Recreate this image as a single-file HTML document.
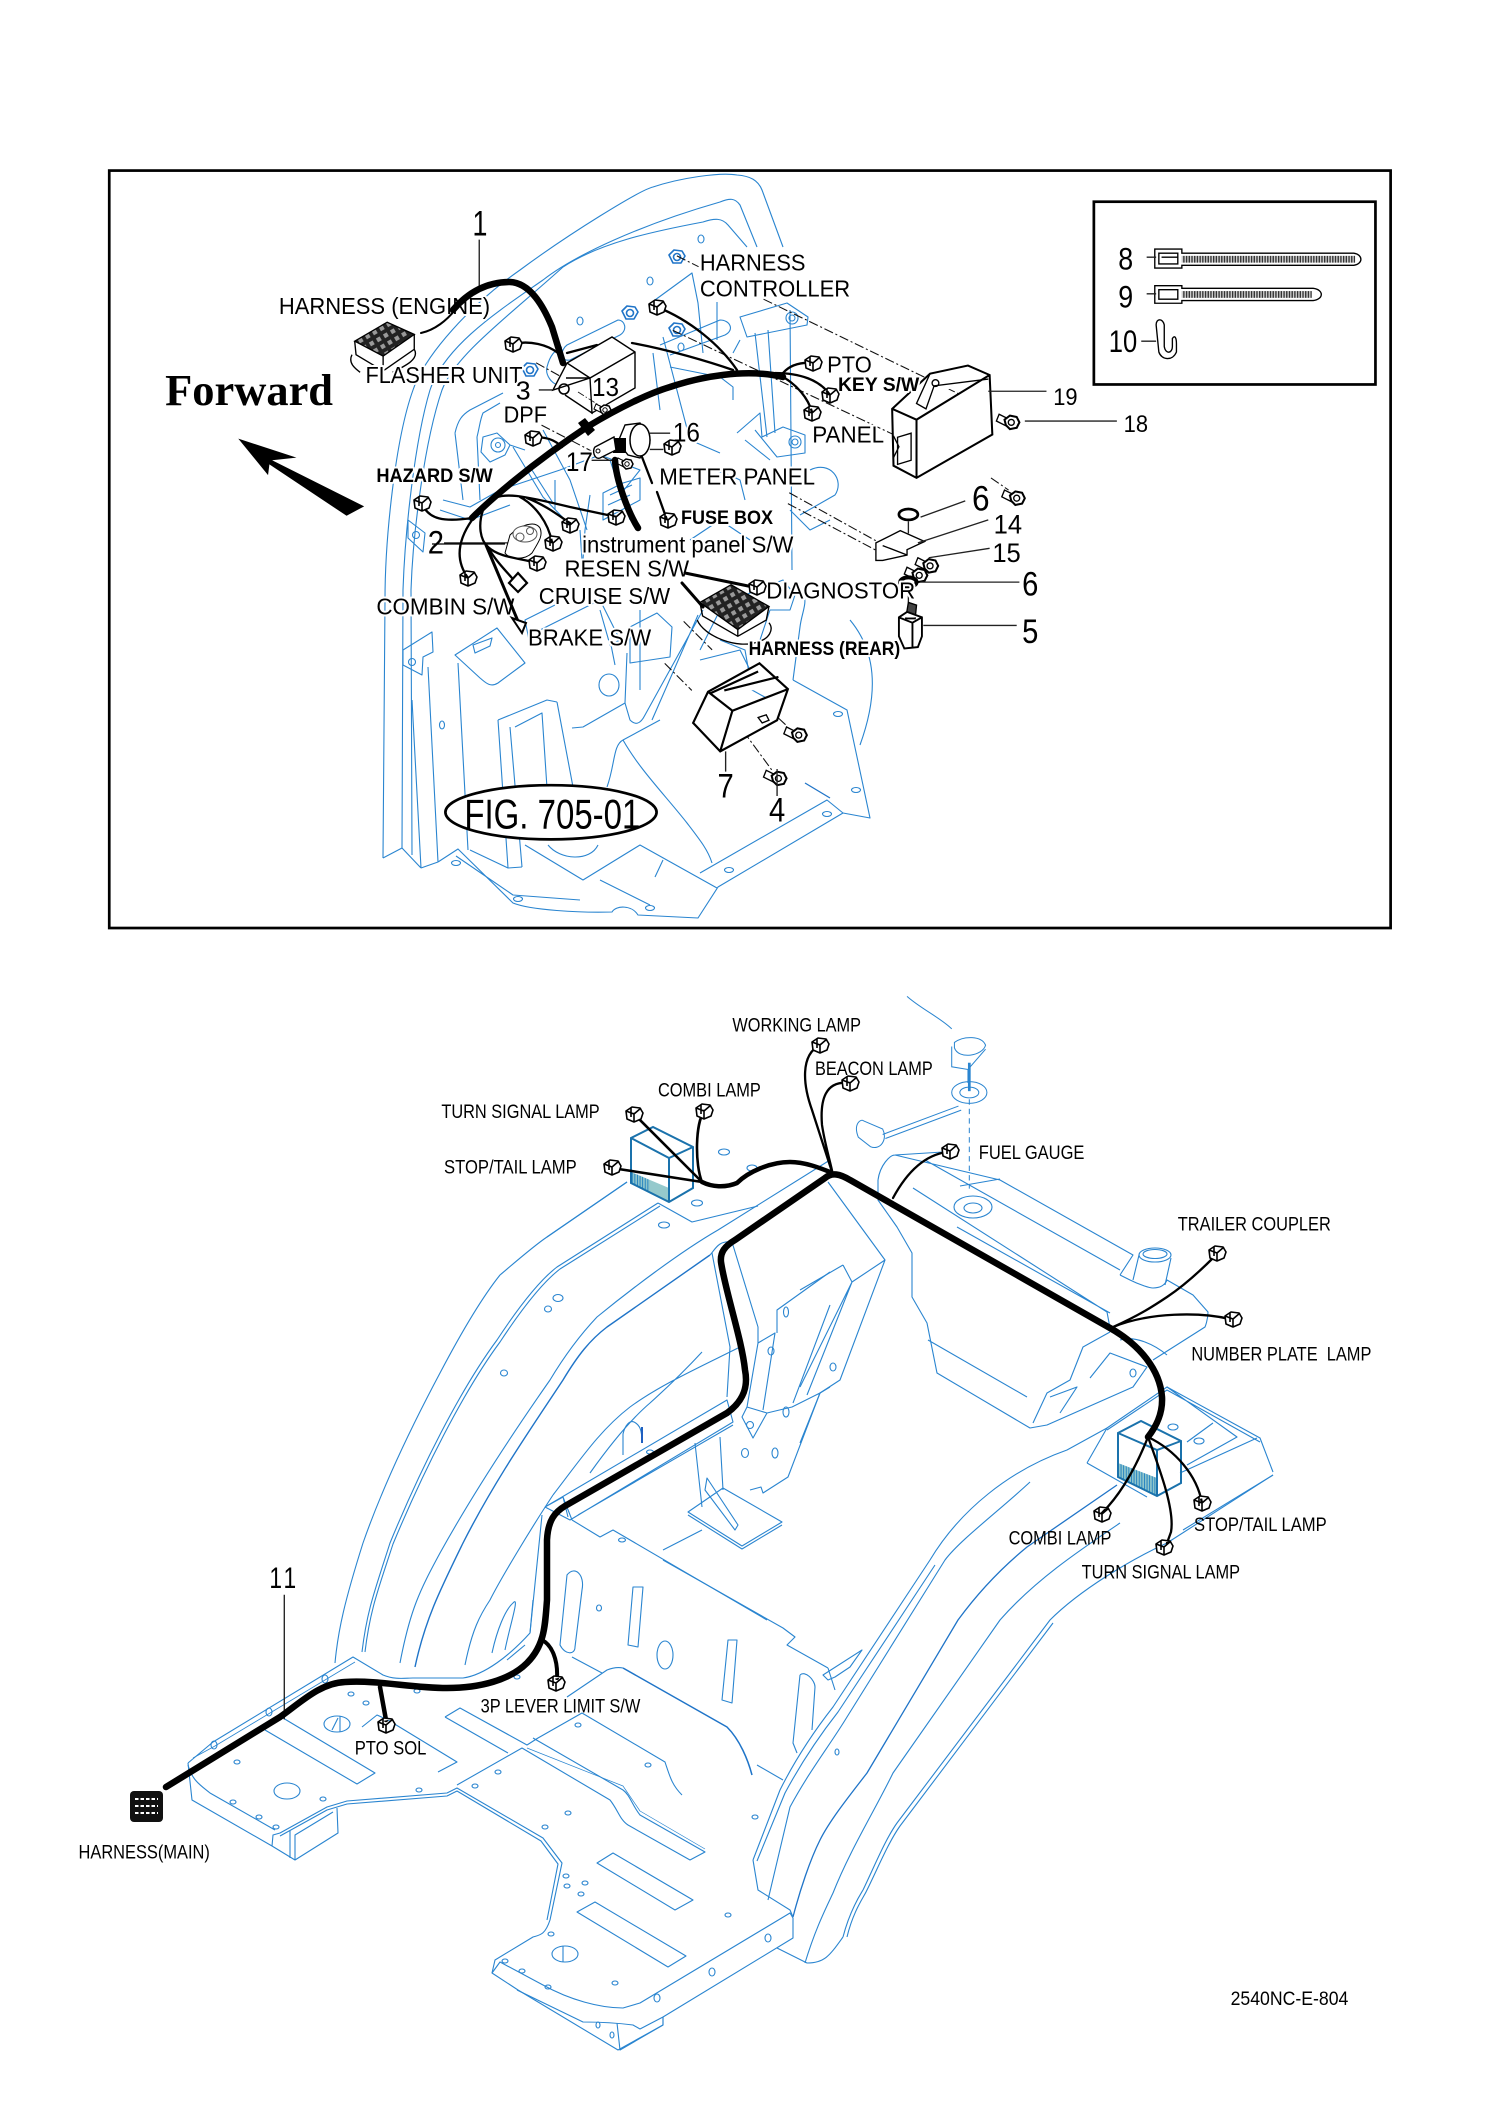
<!DOCTYPE html>
<html><head><meta charset="utf-8"><title>2540NC-E-804</title>
<style>html,body{margin:0;padding:0;background:#fff}svg{display:block}
text{font-family:"Liberation Sans",sans-serif;fill:#000}
.l{font-size:17px}.b{font-size:14.5px;font-weight:bold}.s{font-size:14.5px}
.halo text{paint-order:stroke;stroke:#fff;stroke-width:3px;stroke-linejoin:round}
.bl{fill:none;stroke:#2a85d0;stroke-width:.75}.pb{fill:none;stroke:#2a85d0;stroke-width:1.1;stroke-linejoin:round}
.hv{fill:none;stroke:#1f74c8;stroke-width:1.8}
.d{fill:none;stroke:#111;stroke-width:.8;stroke-dasharray:7 2 1.5 2}
.ld{fill:none;stroke:#222;stroke-width:1}
.w{fill:none;stroke:#000;stroke-width:2.3;stroke-linecap:round}
.tw{fill:none;stroke:#000;stroke-width:6.5;stroke-linecap:round}</style></head><body>
<svg xmlns="http://www.w3.org/2000/svg" width="1500" height="2123" viewBox="0 0 1500 2123">
<defs>
<g id="c"><path d="M-8 -3L-2 -7L6 -6L9 -1L7 5L0 8L-7 5Z M-8 -3L0 0L7 -6M0 0L0 8M-3 -6.5L-3 3" fill="#fff" stroke="#000" stroke-width="1.6" stroke-linejoin="round"/></g>
<g id="bolt"><path d="M-10 -5L-2 -1L-4 4L-12 0Z" fill="#fff" stroke="#000" stroke-width="1"/><path d="M-6 -1L-2 -4L3 -3L5 1L3 5L-2 6L-5 3Z" fill="#fff" stroke="#000" stroke-width="1.5"/><circle r="2.2" cx="-1" cy="1" fill="none" stroke="#000"/></g>
<g id="nut"><path d="M-8 -2L-3 -7L5 -6L8 -1L4 6L-4 6Z" fill="#fff" stroke="#1f74c8" stroke-width="1.6"/><circle r="3.5" fill="none" stroke="#1f74c8" stroke-width="1.6"/></g>
<pattern id="grid" width="6" height="6" patternUnits="userSpaceOnUse" patternTransform="rotate(-30)"><rect width="6" height="6" fill="#222"/><rect width="3.2" height="3.2" x="1.4" y="1.4" fill="#999"/></pattern>
<pattern id="hat" width="2.6" height="4" patternUnits="userSpaceOnUse"><rect width="2.6" height="4" fill="#8fc6cc"/><rect width=".9" height="4" fill="#1f7fc0"/></pattern>
<pattern id="tie" width="2" height="4" patternUnits="userSpaceOnUse"><rect width="2" height="4" fill="#ccc"/><rect width="1" height="4" fill="#333"/></pattern>
</defs>

<!-- TOP BLUE (px) -->
<g class="pb">
<path d="M383 858L385 600C385 540 395 440 413 390C425 355 470 305 520 270C570 233 640 190 653 187C680 178 720 172 737 175C750 176 758 180 762 190L783 247"/>
<path d="M402 848L403 590C405 530 415 440 430 390C445 345 500 310 543 280C575 255 640 225 720 202C730 198 735 198 740 205L757 247"/>
<path d="M412 855L411 590C413 530 425 440 442 390C455 355 510 315 563 267C600 243 650 232 703 222C715 218 722 218 728 225L747 247"/>
<path d="M383 858L402 848L421 868M421 868L438 862M412 700L421 868M428 667L438 862"/>
<path d="M403 650L432 632L433 652L423 657L422 675L403 665ZM408 520L425 533L423 552L408 538Z"/>
<circle cx="416" cy="535" r="3.5"/><circle cx="412" cy="662" r="3.5"/>
<path d="M438 862L458 849L513 903C530 910 580 913 612 912C616 905 632 905 638 915L698 918L718 887L843 813L870 818L847 710L793 680"/>
<path d="M456 856L513 895L580 900M470 850L508 868L522 867"/>
<path d="M455 655L497 628L525 663L498 683C490 688 485 682 480 678ZM473 645L492 638L490 646L475 653Z"/>
<path d="M458 663L468 850M498 720L508 868M510 727L522 867M515 727L542 713L547 788M557 702L573 787M498 720L547 700L557 702"/>
<path d="M572 728L583 727L625 703L630 720C635 725 640 725 645 715L703 610M627 653L625 703M652 720L698 615M630 663L670 657L672 627L657 613L630 627Z"/>
<path d="M660 720L623 740C613 745 615 765 607 787M623 740C640 770 665 795 687 823C700 840 708 850 712 863"/>
<path d="M700 873L827 800L843 813"/><path class="hv" d="M805 783L830 798" style="stroke-width:1.3"/>
<path d="M525 845L583 880L640 845L717 888M663 860L655 877M600 880L650 905M548 845C560 860 590 862 598 845"/>
<ellipse cx="609" cy="685" rx="10" ry="11"/>
<path d="M720 640L745 650L752 690L770 700M793 680L800 627C802 610 810 600 800 590M790 310L792 570"/>
<path d="M500 490L560 470L600 455L640 470L620 495M555 480L555 510M590 495L585 530L583 560M610 460L630 520"/>
<path d="M540 630L600 600L620 640L610 645L600 610M530 645L525 620L555 605M610 640L615 665M640 610L640 690"/>
<g><ellipse cx="442" cy="725" rx="2.5" ry="4"/><ellipse cx="456" cy="863" rx="4.5" ry="2.5"/><ellipse cx="518" cy="899" rx="4.5" ry="2.5"/><ellipse cx="650" cy="908" rx="4.5" ry="2.5"/><ellipse cx="729" cy="870" rx="4.5" ry="2.5"/><ellipse cx="827" cy="814" rx="4.5" ry="2.5"/><ellipse cx="856" cy="790" rx="4.5" ry="2.5"/><ellipse cx="838" cy="714" rx="4.5" ry="2.5"/>
<ellipse cx="650" cy="281" rx="3" ry="4"/><ellipse cx="701" cy="239" rx="3" ry="4"/><ellipse cx="580" cy="321" rx="3" ry="4"/><ellipse cx="681" cy="347" rx="3" ry="4"/></g>
<use href="#nut" x="677" y="257"/><use href="#nut" x="630" y="313"/><use href="#nut" x="677" y="330"/><use href="#nut" x="530" y="370"/>
<path d="M567 345L618 320C625 320 628 330 620 335L570 360C560 362 560 350 567 345ZM547 367C550 355 555 350 562 347M547 367C545 375 552 385 560 385"/>
<path d="M455 433C458 420 462 415 470 410L503 393M477 437C480 425 480 420 483 413L500 403M455 433L463 500M477 437L480 500"/>
<path d="M483 437L497 433L510 445L505 455L490 462L481 452ZM510 445L525 450"/><circle cx="498" cy="445" r="7"/><circle cx="498" cy="445" r="2.5"/>
<path d="M740 317L787 303L808 317L807 325L747 337ZM755 333L767 437M768 330L775 433"/>
<circle cx="792" cy="318" r="6"/><circle cx="792" cy="318" r="3"/>
<path d="M737 433L760 413L762 437L783 427L805 435L805 453L777 457L755 430M745 440L770 460"/>
<circle cx="795" cy="442" r="6"/><circle cx="795" cy="442" r="3"/>
<path d="M655 300L692 273L698 303L703 353M670 367L720 377L733 387L733 400M653 353L660 410M663 337L690 440M690 440L720 453M717 302L717 340M740 340L733 353M660 345L720 320C730 320 735 330 725 335L670 355"/>
<path d="M603 493L623 483L640 478L640 500L603 520ZM610 495L632 485M608 505L630 495"/>
<path d="M543 430L570 480L587 530M513 447L543 497L570 525M530 467L553 503M580 530L582 560"/>
<path d="M443 500L470 507L500 490M440 510L470 520L510 505"/>
<path d="M680 470C700 465 720 470 740 480L745 500M690 540L720 520L750 540M790 510L810 530L830 520M810 470C830 460 845 480 835 495L800 515"/>
<path d="M700 650L720 610L745 595L783 580L795 595L790 610L770 610L760 640"/>
<path d="M700 660L740 650L750 670"/>
<path d="M850 620C875 650 880 690 860 745"/>
</g>

<!-- BOTTOM BLUE (px) -->
<g class="pb">
<path d="M188 1763L213 1742L353 1657L383 1675C395 1680 405 1678 413 1678L463 1678C485 1675 510 1655 530 1633L533 1600"/>
<path d="M193 1758L215 1746L355 1662" stroke-width=".8"/>
<path d="M188 1763L192 1800L272 1846L295 1860L338 1833L337 1808M272 1846L273 1835L280 1833L327 1807L347 1801L447 1793L457 1788L543 1838L562 1863L550 1920C545 1935 540 1935 533 1937L495 1960L492 1973L518 1990L618 2050L663 2025L663 2017"/>
<path d="M280 1836L327 1810L347 1804L447 1796L457 1791L541 1841L558 1864L547 1920M290 1830L290 1858M295 1860L295 1835L333 1812M188 1765C192 1780 200 1785 210 1793L275 1830"/>
<path d="M283 1718L375 1773L357 1784L265 1730M362 1727L377 1715L388 1720L457 1762L438 1772"/>
<path d="M445 1717L460 1708L527 1745L538 1738L582 1713L665 1762C670 1777 672 1785 682 1795M445 1717L508 1753M457 1785L522 1748L610 1800C618 1810 620 1820 628 1825L690 1860L705 1852L640 1815C632 1805 630 1795 623 1790L533 1738"/>
<path d="M527 1748L623 1786L640 1811L705 1849" stroke-width=".7"/>
<path d="M597 1863L613 1853L693 1900L675 1910ZM577 1912L595 1902L686 1956L668 1967Z"/>
<path d="M492 1973L500 1962L543 1985C570 2000 600 2008 623 2008L640 2003L790 1913L793 1918L793 1938L663 2017L640 2029L633 2025C610 2022 585 2022 583 2022L517 1990"/>
<path d="M663 2017L663 2025L620 2050L617 2023"/>
<path d="M567 1575C575 1565 585 1575 582 1590L575 1647C575 1655 565 1655 560 1645ZM633 1587L643 1587L638 1647L628 1645ZM728 1640L737 1640L732 1703L722 1700Z"/>
<ellipse cx="665" cy="1655" rx="8" ry="14"/>
<path d="M567 1697L607 1670C612 1668 618 1667 623 1668"/><path class="hv" d="M623 1668L727 1727C740 1740 748 1760 752 1775" style="stroke-width:1.5"/>
<path d="M572 1657L602 1673M757 1765L783 1780M663 1560L783 1628L795 1637L787 1645L828 1668"/>
<path d="M800 1675C805 1670 815 1680 815 1687L812 1730M797 1753L793 1743L800 1675"/>
<path d="M823 1675L862 1650L850 1667L835 1677L828 1680ZM828 1668L835 1690"/>
<path d="M753 1860L780 1790C795 1760 815 1730 833 1707L930 1560C960 1510 1010 1470 1067 1450L1107 1428M757 1861L785 1793C800 1765 820 1735 838 1712L935 1565"/>
<path d="M768 1900L790 1807C810 1770 830 1745 847 1717L945 1560C960 1540 1000 1510 1030 1482"/>
<path class="hv" d="M793 1917C800 1890 810 1860 820 1840C830 1820 850 1795 867 1773L958 1620C980 1590 1005 1565 1027 1547L1117 1485" style="stroke-width:1.3"/>
<path d="M805 1963C815 1930 825 1910 833 1893C850 1850 875 1810 893 1773L1000 1620C1035 1580 1080 1550 1120 1523"/>
<path d="M843 1937C850 1910 860 1895 863 1890C875 1865 885 1840 897 1823L1050 1620C1080 1590 1130 1560 1167 1543L1273 1475M847 1937C853 1912 863 1898 866 1892C878 1868 888 1843 900 1826L1053 1623"/>
<path d="M843 1937C830 1955 825 1963 807 1963L777 1948M753 1860L758 1890L790 1910L793 1917"/>
<path d="M1087 1463L1107 1428L1167 1387L1260 1438L1273 1472M1107 1430L1167 1390L1260 1442M1087 1463L1147 1497M1180 1473L1257 1438M1167 1387L1237 1437L1187 1465M1187 1442L1213 1423"/>
<path d="M1183 1530L1273 1475"/>
<ellipse cx="1173" cy="1427" rx="5" ry="3"/><ellipse cx="1199" cy="1441" rx="5" ry="3"/>
<path d="M878 1180C880 1165 890 1155 895 1155L943 1152M895 1155L1000 1180L1133 1255L1120 1275M960 1186L1000 1179M913 1188L1107 1312M925 1160L1120 1270M957 1227L1110 1313"/>
<path d="M1120 1275L1130 1280C1140 1285 1150 1288 1153 1288C1160 1288 1165 1285 1167 1280L1193 1295L1208 1312C1208 1320 1205 1327 1205 1327L1153 1360"/>
<ellipse cx="1155" cy="1255" rx="16" ry="7"/><ellipse cx="1155" cy="1254" rx="12" ry="4.5"/>
<path d="M1139 1255L1133 1280M1171 1258L1165 1285"/>
<path d="M878 1180L878 1200L897 1227L912 1253L912 1297L927 1323L937 1373L1030 1428L1047 1425L1133 1387L1147 1367M928 1340L1027 1397M1033 1423L1047 1393L1070 1380L1083 1347L1110 1332M1050 1397L1077 1387L1060 1413M1090 1378L1110 1353L1147 1367L1133 1387"/>
<path d="M1120 1340C1135 1335 1155 1345 1167 1355M1110 1328L1107 1312"/><ellipse cx="1133" cy="1373" rx="3" ry="4"/>
<ellipse cx="973" cy="1207" rx="19" ry="11"/><ellipse cx="973" cy="1208" rx="9" ry="5"/>
<path d="M828 1182L885 1260L840 1380L820 1393L800 1443M843 1265L852 1282L807 1395M843 1265L800 1290M852 1282L800 1387M885 1260L852 1282"/><ellipse cx="833" cy="1367" rx="3" ry="4"/>
<path d="M627 1182L547 1237M658 1203L692 1222L758 1206"/>
<path d="M335 1663C338 1630 345 1600 363 1543C385 1480 415 1420 440 1373C460 1335 480 1300 500 1275C520 1258 535 1245 547 1237L627 1182"/>
<path d="M362 1652C367 1610 375 1590 390 1543C420 1470 460 1390 497 1340C520 1305 540 1280 557 1267L658 1203M365 1652C370 1610 378 1590 393 1544C423 1472 463 1392 500 1342C523 1307 543 1282 560 1269L660 1206"/>
<path d="M400 1663C410 1610 420 1590 440 1553C475 1490 515 1430 550 1380C565 1355 580 1335 597 1317C630 1290 680 1252 718 1230L830 1160"/>
<path d="M415 1667C425 1620 440 1590 463 1543C495 1480 530 1430 563 1380C578 1355 590 1340 607 1327L710 1255" style="stroke:#1f74c8;stroke-width:1.4"/>
<path d="M465 1665C472 1630 480 1615 490 1600C500 1580 530 1530 553 1495M492 1653C497 1630 505 1610 513 1603C520 1595 510 1625 505 1650M530 1633L542 1515M507 1660L525 1645"/>
<path d="M553 1495C580 1460 600 1430 630 1407C660 1385 700 1367 740 1347M590 1473C610 1445 630 1420 650 1403C670 1385 690 1365 702 1352"/>
<path d="M623 1455L623 1434C625 1425 630 1420 634 1422C640 1425 642 1430 642 1443"/><path d="M642 1427L642 1443" style="stroke-width:2;stroke:#1f5fc0"/>
<path d="M710 1255C715 1250 718 1240 732 1242M712 1253L730 1347L727 1397M732 1242L758 1327L758 1343L747 1407M758 1343L775 1333L763 1410M777 1333L777 1310L830 1272M793 1403L830 1305"/>
<path d="M545 1507L727 1400L733 1422L570 1520L545 1507M563 1497L568 1517M545 1507L563 1497L572 1520M578 1515L733 1425"/>
<path d="M572 1520L600 1537L613 1530L767 1620"/>
<path d="M695 1443L702 1507M720 1437L723 1490M688 1512L723 1488L782 1522L742 1546ZM688 1515L742 1549L782 1525M707 1478L738 1525L735 1530L705 1490ZM663 1550L702 1530"/>
<path d="M742 1417L753 1438L767 1413L747 1407ZM767 1413L792 1407L820 1393L830 1387M820 1393L788 1477L763 1493L761 1487L750 1490"/>
<g>
<ellipse cx="558" cy="1298" rx="5" ry="3.5"/><ellipse cx="548" cy="1309" rx="3.5" ry="3"/><ellipse cx="504" cy="1373" rx="3.5" ry="3"/><ellipse cx="664" cy="1225" rx="5.5" ry="3"/><ellipse cx="697" cy="1203" rx="5.5" ry="3"/><ellipse cx="724" cy="1152" rx="5.5" ry="3"/><ellipse cx="752" cy="1168" rx="5" ry="3"/><ellipse cx="650" cy="1452" rx="3.5" ry="2"/><ellipse cx="622" cy="1540" rx="3.5" ry="2"/><ellipse cx="599" cy="1608" rx="2.5" ry="3"/>
<ellipse cx="786" cy="1312" rx="2.5" ry="5"/><ellipse cx="771" cy="1351" rx="3" ry="4"/><ellipse cx="786" cy="1412" rx="3" ry="5"/><ellipse cx="775" cy="1453" rx="3" ry="5"/><ellipse cx="745" cy="1453" rx="3.5" ry="4.5"/><circle cx="750" cy="1425" r="3.5"/>
<ellipse cx="214" cy="1745" rx="3" ry="4"/><ellipse cx="269" cy="1712" rx="3" ry="4"/><ellipse cx="325" cy="1679" rx="3" ry="4"/>
<ellipse cx="237" cy="1762" rx="3" ry="2"/><ellipse cx="351" cy="1694" rx="3" ry="2"/><ellipse cx="366" cy="1703" rx="3" ry="2"/><ellipse cx="417" cy="1691" rx="3" ry="2"/><ellipse cx="517" cy="1677" rx="3" ry="2"/><ellipse cx="233" cy="1802" rx="3" ry="2"/><ellipse cx="259" cy="1817" rx="3" ry="2"/><ellipse cx="276" cy="1827" rx="3" ry="2"/><ellipse cx="323" cy="1799" rx="3" ry="2"/><ellipse cx="419" cy="1790" rx="3" ry="2"/><ellipse cx="475" cy="1786" rx="3" ry="2"/><ellipse cx="498" cy="1772" rx="3" ry="2"/><ellipse cx="545" cy="1827" rx="3" ry="2"/><ellipse cx="568" cy="1813" rx="3" ry="2"/><ellipse cx="578" cy="1725" rx="3" ry="2"/><ellipse cx="648" cy="1765" rx="3" ry="2"/>
<ellipse cx="566" cy="1876" rx="3" ry="2"/><ellipse cx="567" cy="1886" rx="3" ry="2"/><ellipse cx="585" cy="1883" rx="3" ry="2"/><ellipse cx="581" cy="1894" rx="3" ry="2"/><ellipse cx="551" cy="1934" rx="3" ry="2"/><ellipse cx="505" cy="1961" rx="3" ry="2"/><ellipse cx="522" cy="1971" rx="3" ry="2"/><ellipse cx="548" cy="1987" rx="3" ry="2"/><ellipse cx="615" cy="1983" rx="3" ry="2"/><ellipse cx="728" cy="1915" rx="3" ry="2"/><ellipse cx="755" cy="1817" rx="3" ry="2"/>
<ellipse cx="657" cy="1998" rx="3" ry="4"/><ellipse cx="712" cy="1972" rx="3" ry="4"/><ellipse cx="768" cy="1938" rx="3" ry="4"/><ellipse cx="598" cy="2025" rx="2" ry="3"/><ellipse cx="612" cy="2035" rx="2" ry="3"/><ellipse cx="837" cy="1752" rx="2" ry="3"/>
<ellipse cx="287" cy="1791" rx="13" ry="8"/><ellipse cx="337" cy="1724" rx="13" ry="8"/><path d="M340 1716L340 1732M338 1718L332 1730"/><ellipse cx="565" cy="1954" rx="13" ry="8"/><path d="M563 1946L563 1962"/>
</g>
</g>

<!-- frames -->
<g transform="scale(1.35379)">
<rect x="80.7" y="126" width="946.5" height="559.5" fill="none" stroke="#000" stroke-width="2"/>
<rect x="808" y="149" width="208" height="135" fill="none" stroke="#000" stroke-width="2"/>

<!-- fuel gauge -->
<g class="bl">
<path d="M705 770C712 765 725 765 728 772C726 780 708 783 705 774ZM703 773L703 788L715 790L728 775M715 790L715 800"/>
<ellipse cx="716" cy="807" rx="13" ry="8"/><ellipse cx="716" cy="807" rx="7" ry="4"/>
<path d="M716 812L716 878" stroke-dasharray="4 3"/><path d="M716 785L716 806" stroke-width="2"/>
<path d="M652 838L708 817M654 841L710 820M638 828L652 834C656 842 650 850 643 847L634 840C630 830 636 826 638 828Z"/>
<path d="M670 736C680 745 695 752 703 760"/>
</g>

<!-- DASHED -->
<path class="d" d="M500 189L516 197M564 221L731 302M497 244L660 321M732 353L745 362M583 364L648 400M582 372L650 408M491 490L511 510M549 540L571 570M505 459L526 480M566 522L581 536M396 268L414 278M400 314L450 340"/>

<!-- TOP PARTS -->
<path d="M262 252L286 238L306 247L283 263Z" fill="url(#grid)" stroke="#000"/>
<path d="M262 252L263 262L283 274L306 258L306 247M283 263L283 274M260 262C257 268 262 272 266 275M306 258C310 265 300 270 290 275" fill="none" stroke="#000" stroke-width="1"/>
<path d="M517 445L540 432L568 448L545 465Z" fill="url(#grid)" stroke="#000"/>
<path d="M517 445L519 455L545 470L566 458L568 448M545 465L545 470" fill="none" stroke="#000" stroke-width="1"/>
<path d="M515 458C520 470 545 480 560 474C568 472 572 465 568 460" fill="none" stroke="#000"/>
<path d="M659 302L687 276L715 270L731 277L733 321L677 353L660 344Z M659 302L677 310L731 277M677 310L677 353" fill="#fff" stroke="#000" stroke-width="1.5"/>
<path d="M687 276L677 298L684 302L690 285L730 280" fill="none" stroke="#000"/><circle cx="691" cy="283" r="2.5" fill="none" stroke="#000"/>
<path d="M663 323L673 320L673 340L663 343Z" fill="#fff" stroke="#000"/><path d="M660 322L664 330L660 338" fill="none" stroke="#000"/>
<path d="M512 534L523 511L561 490L582 509L574 532L532 555Z M523 511L541 525L582 509M512 534L532 555M541 525L532 555M535 510L575 500M525 512L560 496" fill="#fff" stroke="#000" stroke-width="1.6"/>
<path d="M560 530l6 -2l2 4l-5 2z" fill="none" stroke="#000"/>
<use href="#bolt" x="748" y="311"/><use href="#bolt" x="752" y="367"/><use href="#bolt" x="688" y="417"/><use href="#bolt" x="680" y="424"/>
<use href="#bolt" x="591" y="542"/><use href="#bolt" x="576" y="574"/>
<ellipse cx="671" cy="380" rx="7" ry="4" fill="#fff" stroke="#000" stroke-width="2"/>
<ellipse cx="671" cy="430" rx="6" ry="3.5" fill="#fff" stroke="#000" stroke-width="3"/>
<path d="M647 401L665 392L683 400L670 406L670 410L652 414L647 414ZM652 403L670 410" fill="#fff" stroke="#000"/>
<path d="M671 385L671 394M671 435L671 445" class="ld"/>
<path d="M671 445l6 2l-1 10l-7 0z" fill="#444" stroke="#000"/>
<path d="M664 456L670 452L681 456L681 470L678 478L668 479L664 470Z M664 456L674 460L681 456M674 460L674 478" fill="#fff" stroke="#000" stroke-width="1.4"/>

<!-- inset ties -->
<g stroke="#000" fill="#fff">
<path d="M853 184L873 184L873 187L1000 187C1007 188 1007 195 1000 196L873 196L873 198L853 198Z" stroke-width="1"/>
<rect x="873" y="189" width="128" height="5" fill="url(#tie)" stroke="none"/>
<path d="M856 187L870 187L870 195L856 195Z M858 190L870 190" fill="none"/>
<path d="M853 211L873 211L873 213L970 213C978 214 978 221 970 222L873 222L873 224L853 224Z" stroke-width="1"/>
<rect x="873" y="215" width="96" height="5" fill="url(#tie)" stroke="none"/>
<path d="M856 214L870 214L870 221L856 221Z" fill="none"/>
<path d="M854 240C854 235 859 235 860 240L860 256C861 262 866 261 866 256L866 250C868 247 869 250 869 254L869 260C866 267 858 266 856 260Z" stroke-width="1"/>
</g>

<!-- leaders -->
<path class="ld" d="M354 177L354 215M398 288L408 288M328 401L378 401M730 289L773 289M757 311L825 311M680 382L713 370M678 401L730 384M686 412L731 405M680 430L753 430M682 462L751 462M847 190L854 190M847 217L854 217M843 252L854 252M536 555L536 570M574 568L574 588M210 1178L210 1270M480 320L495 320M480 332L490 332M437 340L460 340"/>

<!-- TEXT -->
<g class="halo">
<text class="l" x="206" y="232" textLength="156" lengthAdjust="spacingAndGlyphs">HARNESS (ENGINE)</text>
<text class="l" x="270" y="283" textLength="116" lengthAdjust="spacingAndGlyphs">FLASHER UNIT</text>
<text class="l" x="517" y="200" textLength="78" lengthAdjust="spacingAndGlyphs">HARNESS</text>
<text class="l" x="517" y="219" textLength="111" lengthAdjust="spacingAndGlyphs">CONTROLLER</text>
<text class="l" x="611" y="275" textLength="33" lengthAdjust="spacingAndGlyphs">PTO</text>
<text class="b" x="619" y="289" textLength="60" lengthAdjust="spacingAndGlyphs">KEY S/W</text>
<text class="l" x="600" y="327" textLength="53" lengthAdjust="spacingAndGlyphs">PANEL</text>
<text class="l" x="372" y="312" textLength="32" lengthAdjust="spacingAndGlyphs">DPF</text>
<text class="b" x="278" y="356" textLength="86" lengthAdjust="spacingAndGlyphs">HAZARD S/W</text>
<text class="l" x="487" y="358" textLength="115" lengthAdjust="spacingAndGlyphs">METER PANEL</text>
<text class="b" x="503" y="387" textLength="68" lengthAdjust="spacingAndGlyphs">FUSE BOX</text>
<text class="l" x="430" y="408" textLength="156" lengthAdjust="spacingAndGlyphs">instrument panel S/W</text>
<text class="l" x="417" y="426" textLength="92" lengthAdjust="spacingAndGlyphs">RESEN S/W</text>
<text class="l" x="398" y="446" textLength="97" lengthAdjust="spacingAndGlyphs">CRUISE S/W</text>
<text class="l" x="566" y="442" textLength="110" lengthAdjust="spacingAndGlyphs">DIAGNOSTOR</text>
<text class="l" x="278" y="454" textLength="102" lengthAdjust="spacingAndGlyphs">COMBIN S/W</text>
<text class="l" x="390" y="477" textLength="91" lengthAdjust="spacingAndGlyphs">BRAKE S/W</text>
<text class="b" x="553" y="484" textLength="112" lengthAdjust="spacingAndGlyphs">HARNESS (REAR)</text>
<text x="381" y="295" textLength="11" lengthAdjust="spacingAndGlyphs" style="font-size:19px">3</text>
<text x="497" y="326" textLength="20" lengthAdjust="spacingAndGlyphs" style="font-size:20px">16</text>
<text x="418" y="348" textLength="20" lengthAdjust="spacingAndGlyphs" style="font-size:20px">17</text>
<text x="316" y="409" textLength="12" lengthAdjust="spacingAndGlyphs" style="font-size:24px">2</text>
</g>
<g>
<text x="122" y="299" textLength="124" lengthAdjust="spacingAndGlyphs" style="font-family:'Liberation Serif',serif;font-size:33px;font-weight:bold">Forward</text>
<text x="349" y="174" textLength="11" lengthAdjust="spacingAndGlyphs" style="font-size:26px">1</text>
<text x="778" y="299" textLength="18" lengthAdjust="spacingAndGlyphs" style="font-size:18px">19</text>
<text x="830" y="319" textLength="18" lengthAdjust="spacingAndGlyphs" style="font-size:18px">18</text>
<text x="718" y="377" textLength="13" lengthAdjust="spacingAndGlyphs" style="font-size:26px">6</text>
<text x="734" y="394" textLength="21" lengthAdjust="spacingAndGlyphs" style="font-size:20px">14</text>
<text x="733" y="415" textLength="21" lengthAdjust="spacingAndGlyphs" style="font-size:20px">15</text>
<text x="755" y="440" textLength="12" lengthAdjust="spacingAndGlyphs" style="font-size:25px">6</text>
<text x="755" y="475" textLength="12" lengthAdjust="spacingAndGlyphs" style="font-size:25px">5</text>
<text x="530" y="589" textLength="12" lengthAdjust="spacingAndGlyphs" style="font-size:25px">7</text>
<text x="568" y="607" textLength="12" lengthAdjust="spacingAndGlyphs" style="font-size:25px">4</text>
<text x="826" y="199" textLength="11" lengthAdjust="spacingAndGlyphs" style="font-size:23px">8</text>
<text x="826" y="227" textLength="11" lengthAdjust="spacingAndGlyphs" style="font-size:23px">9</text>
<text x="819" y="260" textLength="21" lengthAdjust="spacingAndGlyphs" style="font-size:23px">10</text>
<ellipse cx="407" cy="600" rx="78" ry="20" fill="#fff" stroke="#000" stroke-width="2"/>
<text x="343" y="612" textLength="130" lengthAdjust="spacingAndGlyphs" style="font-size:31px">FIG. 705-01</text>
<text class="s" x="541" y="762" textLength="95" lengthAdjust="spacingAndGlyphs">WORKING LAMP</text>
<text class="s" x="602" y="794" textLength="87" lengthAdjust="spacingAndGlyphs">BEACON LAMP</text>
<text class="s" x="486" y="810" textLength="76" lengthAdjust="spacingAndGlyphs">COMBI LAMP</text>
<text class="s" x="326" y="826" textLength="117" lengthAdjust="spacingAndGlyphs">TURN SIGNAL LAMP</text>
<text class="s" x="328" y="867" textLength="98" lengthAdjust="spacingAndGlyphs">STOP/TAIL LAMP</text>
<text class="s" x="723" y="856" textLength="78" lengthAdjust="spacingAndGlyphs">FUEL GAUGE</text>
<text class="s" x="870" y="909" textLength="113" lengthAdjust="spacingAndGlyphs">TRAILER COUPLER</text>
<text class="s" x="880" y="1005" textLength="133" lengthAdjust="spacingAndGlyphs" xml:space="preserve">NUMBER PLATE  LAMP</text>
<text class="s" x="882" y="1131" textLength="98" lengthAdjust="spacingAndGlyphs">STOP/TAIL LAMP</text>
<text class="s" x="745" y="1141" textLength="76" lengthAdjust="spacingAndGlyphs">COMBI LAMP</text>
<text class="s" x="799" y="1166" textLength="117" lengthAdjust="spacingAndGlyphs">TURN SIGNAL LAMP</text>
<text x="199" y="1173" textLength="22" lengthAdjust="spacingAndGlyphs" style="font-size:22px;letter-spacing:3px">11</text>
<text class="s" x="355" y="1265" textLength="118" lengthAdjust="spacingAndGlyphs">3P LEVER LIMIT S/W</text>
<text class="s" x="262" y="1296" textLength="53" lengthAdjust="spacingAndGlyphs">PTO SOL</text>
<text class="s" x="58" y="1373" textLength="97" lengthAdjust="spacingAndGlyphs">HARNESS(MAIN)</text>
<text class="s" x="909" y="1481" textLength="87" lengthAdjust="spacingAndGlyphs">2540NC-E-804</text>
</g>
<path d="M176 324L219 338L201 340L269 374L256 381L199 343L198 351Z" fill="#000"/>
</g>

<!-- PX PARTS & WIRES -->
<!-- flasher -->
<path d="M553 390L567 363L612 337L635 352L635 388L592 413L590 378ZM567 363L590 378L635 352M566 378L590 378L592 413L565 395" fill="#fff" stroke="#000" stroke-width="1.4"/>
<circle cx="564" cy="389" r="5" fill="none" stroke="#000" stroke-width="1.6"/>
<path d="M578 392L605 409" class="d"/>
<use href="#bolt" x="606" y="409"/>
<text x="592" y="396" textLength="27" lengthAdjust="spacingAndGlyphs" style="font-size:26px;paint-order:stroke;stroke:#fff;stroke-width:3px">13</text>
<!-- meter -->
<path d="M625 425L640 423L650 440L640 458L628 455L618 442Z" fill="#fff" stroke="#000" stroke-width="1.4"/>
<ellipse cx="640" cy="440" rx="10" ry="16" fill="#fff" stroke="#000" stroke-width="1.5"/>
<rect x="613" y="438" width="13" height="15" fill="#000"/>
<path d="M595 447L614 437L616 450L600 458C594 460 592 450 595 447Z" fill="#fff" stroke="#000" stroke-width="1.4"/><circle cx="598" cy="451" r="2" fill="none" stroke="#000"/>
<use href="#bolt" x="628" y="463"/>
<!-- switch 2 -->
<path d="M510 535C520 525 535 520 540 528C543 535 540 540 532 553C525 560 510 560 505 553Z" fill="#fff" stroke="#000" stroke-width="1"/>
<ellipse cx="525" cy="534" rx="12" ry="8" fill="#fff" stroke="#555"/><circle cx="520" cy="537" r="4" fill="none" stroke="#555"/><circle cx="530" cy="531" r="3.5" fill="none" stroke="#555"/>
<!-- lamps -->
<path d="M631 1172L650 1180L650 1192L631 1183Z" fill="url(#hat)"/><path d="M650 1180L669 1188L669 1202L650 1192Z" fill="#95c9cc"/>
<path d="M631 1138L653 1127L693 1147L693 1188L669 1202L631 1183ZM631 1138L669 1158L693 1147M669 1158L669 1202" fill="none" stroke="#1a72ac" stroke-width="2"/>
<path d="M1118 1463L1157 1478L1157 1496L1118 1477Z" fill="url(#hat)"/>
<path d="M1118 1433L1141 1421L1181 1441L1181 1483L1157 1496L1118 1477ZM1118 1433L1157 1450L1181 1441M1157 1450L1157 1496" fill="none" stroke="#1a72ac" stroke-width="2"/>

<g class="w">
<path d="M421 333C435 330 447 320 455 310" stroke-width="2"/>
<path d="M513 344C530 340 548 345 558 353M597 345L567 353M657 307C690 320 720 345 737 370M632 343C670 350 710 362 733 370"/>
<path d="M783 373C790 365 800 362 813 363M775 373C800 373 820 380 830 395M783 377C797 385 808 398 812 412"/>
<path d="M422 503C428 520 445 522 472 518M472 520C458 540 455 560 468 578M483 510C478 525 480 540 488 547C500 558 520 558 537 563"/>
<path d="M490 500C505 492 520 495 570 507L617 517M520 497C535 505 548 522 552 542M527 498C545 505 558 515 570 523"/>
<path d="M488 547C495 560 505 570 512 578"/>
<path d="M486 545L520 626" stroke-width="3"/>
<path d="M533 438C545 436 555 440 562 447"/>
<path d="M642 457L652 483M657 492L667 520"/>
<path d="M685 573L753 587" stroke-width="3"/><path d="M682 583L703 607" stroke-width="3"/>
<path d="M380 1687L386 1720" stroke-width="4.5"/>
<path d="M542 1640C552 1645 558 1660 557 1678" stroke-width="4"/>
<path d="M702 1182C712 1187 725 1188 737 1183C748 1172 770 1162 790 1162C805 1162 820 1168 830 1172" stroke-width="4.5"/>
<path d="M634 1114L702 1182M612 1168L702 1182M704 1111C695 1125 695 1165 702 1182" stroke-width="2.6"/>
<path d="M820 1045C800 1055 803 1085 812 1110C820 1135 828 1160 833 1175M850 1083C825 1080 820 1100 822 1125C825 1145 830 1160 833 1175"/>
<path d="M893 1198C907 1172 925 1155 947 1152"/>
<path d="M1113 1327C1140 1315 1155 1305 1167 1297C1185 1285 1203 1268 1213 1258M1113 1327C1150 1312 1200 1312 1230 1319"/>
<path d="M1148 1437C1135 1470 1120 1495 1102 1513M1148 1437C1160 1470 1175 1510 1171 1532L1167 1543M1148 1437C1175 1450 1197 1475 1202 1503"/>
</g>
<path class="tw" d="M453 310C470 290 490 282 510 282C530 283 543 305 552 327L563 363" stroke-width="6"/>
<path class="tw" d="M472 518C490 500 530 465 587 427C620 407 650 393 670 387C700 377 745 368 783 377" stroke-width="6.5"/>
<path class="tw" d="M615 460C616 480 628 512 638 528" stroke-width="6"/>
<path d="M578 423L585 418L595 430L588 436Z" fill="#000"/>
<path class="tw" d="M166 1787L280 1717C300 1703 320 1683 345 1682C380 1680 410 1688 447 1688C480 1688 510 1680 527 1663C545 1645 545 1625 547 1600L547 1540C548 1520 555 1512 565 1506L727 1413C745 1400 748 1385 745 1370C742 1340 725 1290 721 1262C720 1252 725 1246 735 1240L825 1178C832 1172 840 1174 850 1180L1110 1328C1140 1345 1160 1370 1162 1397C1163 1415 1155 1428 1148 1437" stroke-width="7"/>

<g>
<use href="#c" x="513" y="344"/><use href="#c" x="657" y="307"/><use href="#c" x="533" y="438"/><use href="#c" x="422" y="503"/><use href="#c" x="616" y="517"/><use href="#c" x="570" y="525"/><use href="#c" x="553" y="543"/><use href="#c" x="468" y="578"/><use href="#c" x="537" y="563"/><use href="#c" x="668" y="520"/><use href="#c" x="757" y="587"/><use href="#c" x="813" y="363"/><use href="#c" x="830" y="395"/><use href="#c" x="812" y="413"/><use href="#c" x="672" y="447"/>
<use href="#c" x="386" y="1725"/><use href="#c" x="556" y="1683"/><use href="#c" x="634" y="1114"/><use href="#c" x="612" y="1167"/><use href="#c" x="704" y="1111"/><use href="#c" x="820" y="1045"/><use href="#c" x="850" y="1083"/><use href="#c" x="950" y="1151"/><use href="#c" x="1217" y="1253"/><use href="#c" x="1233" y="1319"/><use href="#c" x="1102" y="1514"/><use href="#c" x="1164" y="1547"/><use href="#c" x="1202" y="1503"/>
<path d="M518 573L527 583L518 592L509 583Z" fill="#fff" stroke="#000" stroke-width="2.2"/>
<path d="M512 618L526 623L522 633Z" fill="#fff" stroke="#000" stroke-width="2"/>
<rect x="130" y="1791" width="33" height="31" rx="4" fill="#111"/>
<path d="M135 1799h23M135 1806h23M135 1813h23" stroke="#fff" stroke-width="2" stroke-dasharray="3.5 2" fill="none"/>
<path d="M432 544L505 544" stroke="#000" stroke-width="1.3"/>
</g>
</svg>
</body></html>
